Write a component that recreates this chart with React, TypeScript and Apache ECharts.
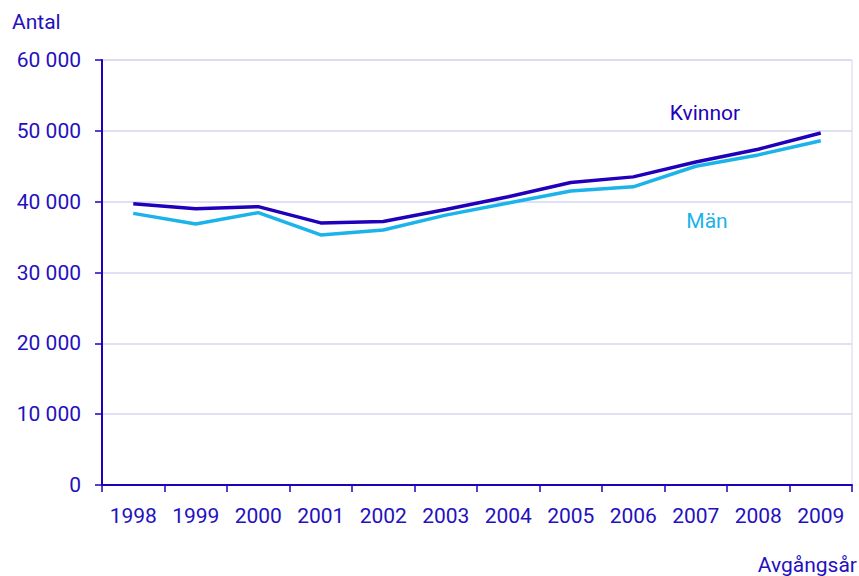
import React, { useEffect, useRef } from "react";
import * as echarts from "echarts";

const years = ["1998", "1999", "2000", "2001", "2002", "2003", "2004", "2005", "2006", "2007", "2008", "2009"];
const kvinnor = [39700, 39000, 39300, 37000, 37200, 38900, 40700, 42700, 43500, 45600, 47400, 49700];
const man = [38350, 36850, 38450, 35300, 36000, 38100, 39800, 41500, 42100, 45000, 46600, 48600];
const yTicks = [0, 10000, 20000, 30000, 40000, 50000, 60000];

const DARK = "#2100BC";
const LIGHT = "#1AB3EA";
const TEXT = "#2410C0";
const GRID = "#D6D6F0";
const FONT = "Roboto, sans-serif";

export default function App() {
  const ref = useRef<HTMLDivElement>(null);
  useEffect(() => {
    if (!ref.current) return;
    const chart = echarts.init(ref.current, undefined, { renderer: "svg" });
    chart.setOption({
      animation: false,
      grid: {
        left: 102,
        right: 7,
        top: 60,
        bottom: 91,
        show: true,
        borderColor: GRID,
        borderWidth: 1,
      },
      xAxis: {
        type: "category",
        data: years,
        boundaryGap: true,
        axisLine: { lineStyle: { color: DARK, width: 2 } },
        axisTick: { show: true, length: 7, lineStyle: { color: DARK, width: 1.5 } },
        axisLabel: {
          color: TEXT,
          fontSize: 21,
          fontFamily: FONT,
          margin: 20,
        },
        splitLine: { show: false },
      },
      yAxis: {
        type: "value",
        min: yTicks[0],
        max: yTicks[yTicks.length - 1],
        interval: 10000,
        axisLine: { show: true, lineStyle: { color: DARK, width: 2 } },
        axisTick: { show: true, length: 7, lineStyle: { color: DARK, width: 1.5 } },
        axisLabel: {
          color: TEXT,
          fontSize: 21,
          fontFamily: FONT,
          margin: 21,
          formatter: (v: number) => String(v).replace(/\B(?=(\d{3})+(?!\d))/g, " "),
        },
        splitLine: { show: true, lineStyle: { color: GRID, width: 1.5 } },
      },
      series: [
        {
          name: "Män",
          type: "line",
          data: man,
          symbol: "none",
          lineStyle: { color: LIGHT, width: 3.5 },
          z: 2,
        },
        {
          name: "Kvinnor",
          type: "line",
          data: kvinnor,
          symbol: "none",
          lineStyle: { color: DARK, width: 3.5 },
          z: 3,
        },
      ],
      graphic: [
        {
          type: "text",
          x: 12,
          y: 22,
          style: { text: "Antal", fill: TEXT, font: "21px Roboto, sans-serif", textVerticalAlign: "middle" },
        },
        {
          type: "text",
          x: 857,
          y: 565,
          style: {
            text: "Avgångsår",
            fill: TEXT,
            font: "21px Roboto, sans-serif",
            textAlign: "right",
            textVerticalAlign: "middle",
          },
        },
        {
          type: "text",
          x: 705,
          y: 113,
          style: {
            text: "Kvinnor",
            fill: DARK,
            font: "21px Roboto, sans-serif",
            textAlign: "center",
            textVerticalAlign: "middle",
          },
        },
        {
          type: "text",
          x: 707,
          y: 221,
          style: {
            text: "Män",
            fill: LIGHT,
            font: "21px Roboto, sans-serif",
            textAlign: "center",
            textVerticalAlign: "middle",
          },
        },
      ],
    });
    return () => chart.dispose();
  }, []);
  return <div ref={ref} style={{ width: 859, height: 576, position: "absolute", left: 0, top: 0 }} />;
}
